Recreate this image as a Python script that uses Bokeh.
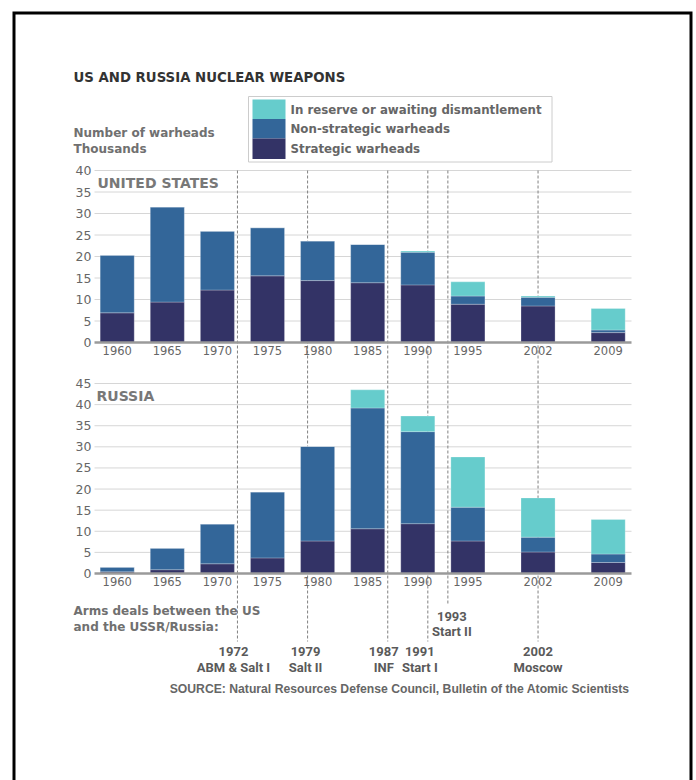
from bokeh.plotting import figure
from bokeh.models import Range1d, LinearAxis, FixedTicker, ColumnDataSource
from bokeh.core.properties import value
from bokeh.embed import file_html
from bokeh.resources import INLINE

# ---------------- data (thousands of warheads) ----------------
years = [1960, 1965, 1970, 1975, 1980, 1985, 1990, 1995, 2002, 2009]

us_strategic = [6.9, 9.4, 12.2, 15.5, 14.4, 13.9, 13.4, 8.9, 8.5, 2.3]
us_nonstrategic = [13.4, 22.1, 13.7, 11.2, 9.2, 8.9, 7.6, 1.9, 2.0, 0.6]
us_reserve = [0, 0, 0, 0, 0, 0, 0.3, 3.3, 0.3, 5.0]

ru_strategic = [0.4, 0.9, 2.3, 3.7, 7.7, 10.6, 11.8, 7.7, 5.1, 2.6]
ru_nonstrategic = [1.1, 5.1, 9.4, 15.6, 22.4, 28.6, 21.8, 8.0, 3.5, 2.0]
ru_reserve = [0, 0, 0, 0, 0, 4.3, 3.7, 11.9, 9.3, 8.2]

us_ticks = [0, 5, 10, 15, 20, 25, 30, 35, 40]
ru_ticks = [0, 5, 10, 15, 20, 25, 30, 35, 40, 45]

treaty_years = [1972, 1979, 1987, 1991, 1993, 2002]
treaty_names = ["ABM & Salt I", "Salt II", "INF", "Start I", "Start II", "Moscow"]

series_labels = ["In reserve or awaiting dismantlement", "Non-strategic warheads", "Strategic warheads"]

CYAN, BLUE, NAVY = "#66cccc", "#336699", "#333366"

# ---------------- canvas ----------------
W, H = 696, 780
PX_PER_YEAR = 10.02
X0_YEAR = 1960 - 116.7 / PX_PER_YEAR
AX_LEFT = X0_YEAR + 94 / PX_PER_YEAR
AX_RIGHT = X0_YEAR + 631 / PX_PER_YEAR


def value_range(zero_px, top_px, top_val):
    scale = (zero_px - top_px) / top_val
    start = -(H - zero_px) / scale
    return Range1d(start, start + H / scale)


p = figure(width=W, height=H, output_backend="svg", toolbar_location=None,
           x_axis_type=None, y_axis_type=None,
           x_range=Range1d(X0_YEAR, X0_YEAR + W / PX_PER_YEAR),
           y_range=Range1d(H, 0), min_border=0, outline_line_color=None,
           background_fill_color="white", border_fill_color="white")
p.extra_x_ranges = {"px": Range1d(0, W)}
p.extra_y_ranges = {"us": value_range(342, 170, 40), "ru": value_range(573, 383, 45)}

# gridlines
for name, ticks in (("us", us_ticks), ("ru", ru_ticks)):
    gy = [t for t in ticks if t > 0]
    p.segment(x0=[AX_LEFT] * len(gy), x1=[AX_RIGHT] * len(gy), y0=gy, y1=gy,
              y_range_name=name, line_color="#d6d6d6", line_width=1)

# treaty dashed lines
line_ends = [641 if y != 1993 else 605 for y in treaty_years]
p.segment(x0=treaty_years, x1=treaty_years, y0=[170] * len(treaty_years), y1=line_ends,
          line_color="#808080", line_dash="3 2", line_width=1)

# bars
for name, s, n, r in (("us", us_strategic, us_nonstrategic, us_reserve),
                      ("ru", ru_strategic, ru_nonstrategic, ru_reserve)):
    src = ColumnDataSource(dict(year=years, strategic=s, nonstrategic=n, reserve=r))
    p.vbar_stack(["strategic", "nonstrategic", "reserve"], x="year", width=3.4,
                 fill_color=[NAVY, BLUE, CYAN], line_color="#ffffff", line_width=0.5,
                 line_alpha=0.5, source=src, y_range_name=name)

# axes
for name, ticks in (("us", us_ticks), ("ru", ru_ticks)):
    ya = LinearAxis(y_range_name=name, fixed_location=AX_LEFT, ticker=FixedTicker(ticks=ticks),
                    axis_line_color=None, major_tick_line_color=None, minor_tick_line_color=None,
                    major_tick_out=0, major_label_standoff=3,
                    major_label_text_font="DejaVu Sans", major_label_text_font_size="12.5px",
                    major_label_text_color="#666666")
    p.add_layout(ya, "left")
    xa = LinearAxis(y_range_name=name, fixed_location=0, ticker=FixedTicker(ticks=years),
                    bounds=(AX_LEFT, AX_RIGHT),
                    axis_line_color="#9a9a9a", axis_line_width=2.5,
                    major_tick_line_color=None, minor_tick_line_color=None,
                    major_tick_out=0, major_label_standoff=3,
                    major_label_text_font="DejaVu Sans", major_label_text_font_size="11.5px",
                    major_label_text_color="#666666")
    p.add_layout(xa, "below")


def txt(x, y, s, size, color="#666666", font="DejaVu Sans", bold=True, align="left"):
    p.text(x=[x], y=[y], text=[s], x_range_name="px", text_font=value(font),
           text_font_size=size, text_font_style="bold" if bold else "normal",
           text_color=color, text_align=align, text_baseline="middle")


# title and axis caption
txt(73, 77, "US AND RUSSIA NUCLEAR WEAPONS", "13.3px", color="#333333")
txt(73, 132, "Number of warheads", "12px", color="#707070")
txt(73, 148, "Thousands", "12px", color="#707070")

# legend (manual)
p.quad(left=[248], right=[551.5], top=[96], bottom=[161.5], x_range_name="px",
       fill_color=None, line_color="#cccccc", line_width=1)
p.quad(left=[252] * 3, right=[285] * 3, top=[99, 118.5, 138], bottom=[118.5, 138, 158.5],
       x_range_name="px", fill_color=[CYAN, BLUE, NAVY], line_color=None)
for lab, yy in zip(series_labels, [109, 128.5, 148]):
    txt(290, yy, lab, "11.8px", color="#666666")

# panel titles
txt(97, 182, "UNITED STATES", "14px", color="#787878")
txt(96, 395, "RUSSIA", "14px", color="#787878")

# arms-deal captions
txt(73, 610, "Arms deals between the US", "12px", color="#707070")
txt(73, 626, "and the USSR/Russia:", "12px", color="#707070")

label_offsets = [-4, -2, -4, -8, 4, 0]
year_rows = [651 if y != 1993 else 616 for y in treaty_years]
name_rows = [667 if y != 1993 else 631 for y in treaty_years]
p.text(x=treaty_years, y=year_rows, text=[str(y) for y in treaty_years], x_offset=label_offsets,
       text_font=value("Roboto"), text_font_size="13px", text_font_style="bold",
       text_color="#5a5a5a", text_align="center", text_baseline="middle")
p.text(x=treaty_years, y=name_rows, text=treaty_names, x_offset=label_offsets,
       text_font=value("Roboto"), text_font_size="13px", text_font_style="bold",
       text_color="#5a5a5a", text_align="center", text_baseline="middle")

txt(629, 688, "SOURCE: Natural Resources Defense Council, Bulletin of the Atomic Scientists",
    "12.2px", color="#666666", font="Liberation Sans", align="right")

# page border
p.line(x=[13.5, 13.5, 690.5, 690.5], y=[820, 12.5, 12.5, 820], x_range_name="px",
       line_color="black", line_width=3, line_join="miter")

open("out.html", "w").write(file_html(p, INLINE))
